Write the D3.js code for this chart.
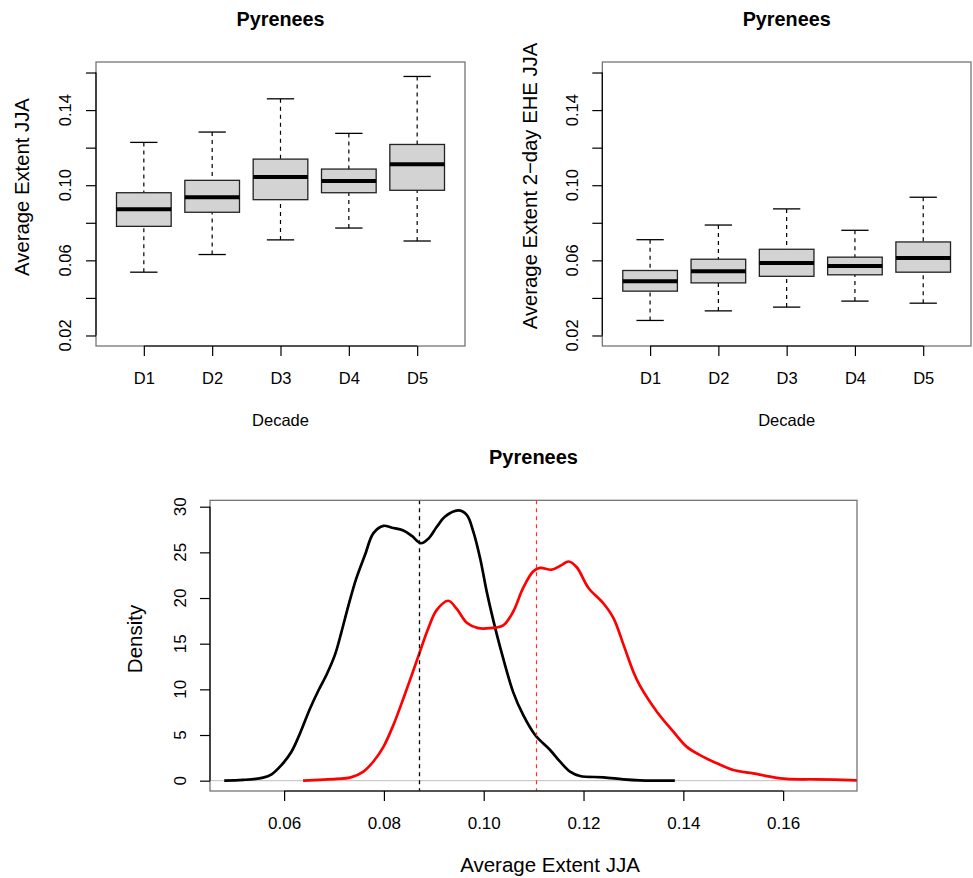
<!DOCTYPE html>
<meta charset="utf-8">
<script src="https://cdn.jsdelivr.net/npm/d3@7"></script>
<style>
  body { margin: 0; background: #fff; }
  svg { font-family: "Liberation Sans", Arial, sans-serif; }
</style>
<div id="chart"></div>
<script>
  // Decades and box statistics [whisker low, Q1, median, Q3, whisker high]
  var decades = ["D1", "D2", "D3", "D4", "D5"];
  var extentBoxes = [
    [0.0537, 0.0781, 0.0872, 0.0960, 0.1228],
    [0.0631, 0.0856, 0.0936, 0.1026, 0.1283],
    [0.0709, 0.0923, 0.1044, 0.1139, 0.1460],
    [0.0772, 0.0960, 0.1022, 0.1086, 0.1276],
    [0.0703, 0.0973, 0.1111, 0.1217, 0.1579]
  ];
  var ehe2Boxes = [
    [0.0280, 0.0436, 0.0489, 0.0546, 0.0710],
    [0.0331, 0.0480, 0.0542, 0.0606, 0.0788],
    [0.0351, 0.0515, 0.0586, 0.0659, 0.0874],
    [0.0383, 0.0523, 0.0570, 0.0617, 0.0760],
    [0.0372, 0.0537, 0.0613, 0.0698, 0.0936]
  ];
  var boxTicks = [0.02, 0.04, 0.06, 0.08, 0.10, 0.12, 0.14, 0.16];
  var boxTickLabels = ["0.02", "", "0.06", "", "0.10", "", "0.14", ""];

  // Density curves (black = earlier, red = later)
  var blackX = [0.0480, 0.0518, 0.0558, 0.0575, 0.0595, 0.0615, 0.0632, 0.0652, 0.0669, 0.0685,
    0.0702, 0.0715, 0.0729, 0.0745, 0.0762, 0.0779, 0.0799, 0.0816, 0.0839, 0.0856, 0.0874,
    0.0889, 0.0906, 0.0922, 0.0949, 0.0966, 0.0979, 0.0993, 0.1006, 0.1019, 0.1033, 0.1059,
    0.1079, 0.1103, 0.1133, 0.1153, 0.1173, 0.1193, 0.1240, 0.1280, 0.1313, 0.1383];
  var blackY = [0.00, 0.08, 0.33, 0.70, 1.72, 3.2, 5.2, 7.9, 9.9, 11.6,
    13.8, 16.3, 19.2, 22.2, 24.7, 27.1, 27.9, 27.7, 27.4, 26.8, 26.0,
    26.5, 27.8, 28.9, 29.6, 29.1, 27.3, 24.3, 20.7, 17.6, 14.6, 9.7,
    7.2, 5.0, 3.36, 2.08, 0.99, 0.51, 0.37, 0.15, 0.04, 0.00];
  var redX = [0.0638, 0.0705, 0.0732, 0.0759, 0.0779, 0.0799, 0.0819, 0.0839, 0.0856, 0.0872,
    0.0889, 0.0906, 0.0929, 0.0946, 0.0966, 0.0989, 0.1013, 0.1039, 0.1059, 0.1079, 0.1099,
    0.1113, 0.1136, 0.1156, 0.1170, 0.1186, 0.1210, 0.1240, 0.1260, 0.1280, 0.1300, 0.1313,
    0.1347, 0.1380, 0.1407, 0.1440, 0.1467, 0.1500, 0.1540, 0.1574, 0.1607, 0.1667, 0.1750];
  var redY = [0.00, 0.20, 0.33, 1.0, 2.1, 3.7, 6.1, 9.0, 11.6, 14.1,
    16.7, 18.7, 19.7, 18.8, 17.3, 16.7, 16.7, 17.0, 18.5, 21.1, 22.9,
    23.3, 23.1, 23.6, 24.0, 23.4, 21.1, 19.4, 17.8, 14.9, 11.9, 10.4,
    7.55, 5.36, 3.7, 2.6, 1.9, 1.17, 0.8, 0.44, 0.19, 0.15, 0.04];
  var blackMean = 0.0871, redMean = 0.1104;
  var densXTicks = [0.06, 0.08, 0.10, 0.12, 0.14, 0.16];
  var densYTicks = [0, 5, 10, 15, 20, 25, 30];

  var svg = d3.select("#chart").append("svg")
    .attr("width", 973)
    .attr("height", 878)
    .style("background", "#fff");

  function boxPanel(stats, left, right, ylab, ylabX, ylabY, tickX) {
    var top = 62, bottom = 346;
    var x = d3.scaleLinear().domain([0.3, 5.7]).range([left, right]);
    var y = d3.scaleLinear().domain([0.0144, 0.1656]).range([bottom, top]);
    var g = svg.append("g");
    var bw = x(0.4) - x(0), cw = x(0.2) - x(0);

    var boxes = g.selectAll(".bx").data(stats).enter().append("g");
    boxes.append("line") // lower whisker
      .attr("x1", function (d, i) { return x(i + 1); })
      .attr("x2", function (d, i) { return x(i + 1); })
      .attr("y1", function (d) { return y(d[0]); })
      .attr("y2", function (d) { return y(d[1]); })
      .attr("stroke", "#000").attr("stroke-width", 1.2).attr("stroke-dasharray", "4,4");
    boxes.append("line") // upper whisker
      .attr("x1", function (d, i) { return x(i + 1); })
      .attr("x2", function (d, i) { return x(i + 1); })
      .attr("y1", function (d) { return y(d[4]); })
      .attr("y2", function (d) { return y(d[3]); })
      .attr("stroke", "#000").attr("stroke-width", 1.2).attr("stroke-dasharray", "4,4");
    [0, 4].forEach(function (k) {
      boxes.append("line")
        .attr("x1", function (d, i) { return x(i + 1) - cw; })
        .attr("x2", function (d, i) { return x(i + 1) + cw; })
        .attr("y1", function (d) { return y(d[k]); })
        .attr("y2", function (d) { return y(d[k]); })
        .attr("stroke", "#000").attr("stroke-width", 1.3);
    });
    boxes.append("rect")
      .attr("x", function (d, i) { return x(i + 1) - bw; })
      .attr("width", 2 * bw)
      .attr("y", function (d) { return y(d[3]); })
      .attr("height", function (d) { return y(d[1]) - y(d[3]); })
      .attr("fill", "#d3d3d3").attr("stroke", "#222").attr("stroke-width", 1.3);
    boxes.append("line")
      .attr("x1", function (d, i) { return x(i + 1) - bw; })
      .attr("x2", function (d, i) { return x(i + 1) + bw; })
      .attr("y1", function (d) { return y(d[2]); })
      .attr("y2", function (d) { return y(d[2]); })
      .attr("stroke", "#000").attr("stroke-width", 4);

    // frame
    g.append("rect").attr("x", left).attr("y", top)
      .attr("width", right - left).attr("height", bottom - top)
      .attr("fill", "none").attr("stroke", "#6a6a6a").attr("stroke-width", 1.2);

    // y axis
    var ya = g.append("g").attr("transform", "translate(" + left + ",0)")
      .call(d3.axisLeft(y).tickValues(boxTicks).tickSize(10).tickSizeOuter(0).tickFormat(""));
    ya.select(".domain").remove();
    ya.selectAll("line").attr("stroke", "#000").attr("stroke-width", 1.2);
    g.append("line").attr("x1", left).attr("x2", left)
      .attr("y1", y(0.02)).attr("y2", y(0.16)).attr("stroke", "#000").attr("stroke-width", 1.2);
    g.selectAll(".ylab").data(boxTicks).enter().append("text")
      .attr("transform", function (d) { return "translate(" + tickX + "," + y(d) + ")rotate(-90)"; })
      .attr("text-anchor", "middle").attr("dominant-baseline", "central")
      .style("font-size", "16.5px")
      .text(function (d, i) { return boxTickLabels[i]; });

    // x axis
    var xa = g.append("g").attr("transform", "translate(0," + bottom + ")")
      .call(d3.axisBottom(x).tickValues([1, 2, 3, 4, 5]).tickSize(10).tickSizeOuter(0)
        .tickFormat(function (d) { return decades[d - 1]; }));
    xa.select(".domain").remove();
    xa.selectAll("line").attr("stroke", "#000").attr("stroke-width", 1.2);
    xa.selectAll("text").attr("y", 38).attr("dy", null)
      .style("font-size", "16.5px").style("font-family", "Liberation Sans, Arial, sans-serif")
      .attr("fill", "#000");
    g.append("line").attr("x1", x(1)).attr("x2", x(5))
      .attr("y1", bottom).attr("y2", bottom).attr("stroke", "#000").attr("stroke-width", 1.2);

    g.append("text").attr("x", (left + right) / 2).attr("y", 426)
      .attr("text-anchor", "middle").style("font-size", "16.5px").text("Decade");
    g.append("text")
      .attr("transform", "translate(" + ylabX + "," + ylabY + ")rotate(-90)")
      .attr("text-anchor", "middle").style("font-size", "20.3px").text(ylab);
    g.append("text").attr("x", (left + right) / 2).attr("y", 26)
      .attr("text-anchor", "middle").style("font-size", "19.8px").style("font-weight", "bold")
      .text("Pyrenees");
  }

  boxPanel(extentBoxes, 96, 465, "Average Extent JJA", 29, 187, 65);
  boxPanel(ehe2Boxes, 602.3, 971, "Average Extent 2\u2212day EHE JJA", 536.5, 186, 571.7);

  // Density panel
  var dl = 210, dr = 857, dt = 500.3, db = 791;
  var dx = d3.scaleLinear().domain([0.04515, 0.1748]).range([dl, dr]);
  var dy = d3.scaleLinear().domain([-1.13, 30.7]).range([db, dt]);
  var dg = svg.append("g");

  dg.append("clipPath").attr("id", "dclip").append("rect")
    .attr("x", dl).attr("y", dt).attr("width", dr - dl).attr("height", db - dt);

  dg.append("line").attr("x1", dl).attr("x2", dr)
    .attr("y1", dy(0)).attr("y2", dy(0)).attr("stroke", "#bebebe").attr("stroke-width", 1);

  var line = d3.line()
    .x(function (d) { return dx(d[0]); })
    .y(function (d) { return dy(d[1]); })
    .curve(d3.curveCatmullRom.alpha(0.5));

  dg.append("path").datum(d3.zip(blackX, blackY))
    .attr("d", line).attr("fill", "none").attr("stroke", "#000").attr("stroke-width", 2.7)
    .attr("clip-path", "url(#dclip)");
  dg.append("path").datum(d3.zip(redX, redY))
    .attr("d", line).attr("fill", "none").attr("stroke", "#ff0000").attr("stroke-width", 2.7)
    .attr("clip-path", "url(#dclip)");

  // mean lines, snapped to the pixel grid
  var bmx = Math.round(dx(blackMean)) + 0.5, rmx = Math.round(dx(redMean)) + 0.5;
  dg.append("line").attr("x1", bmx).attr("x2", bmx)
    .attr("y1", dt).attr("y2", db).attr("stroke", "#000").attr("stroke-width", 1.3)
    .attr("stroke-dasharray", "4,4");
  dg.append("line").attr("x1", rmx).attr("x2", rmx)
    .attr("y1", dt).attr("y2", db).attr("stroke", "#ff3030").attr("stroke-width", 1.2)
    .attr("stroke-dasharray", "4,4");

  dg.append("rect").attr("x", dl).attr("y", dt)
    .attr("width", dr - dl).attr("height", db - dt)
    .attr("fill", "none").attr("stroke", "#6a6a6a").attr("stroke-width", 1.2);

  var dya = dg.append("g").attr("transform", "translate(" + dl + ",0)")
    .call(d3.axisLeft(dy).tickValues(densYTicks).tickSize(10).tickSizeOuter(0).tickFormat(""));
  dya.select(".domain").remove();
  dya.selectAll("line").attr("stroke", "#000").attr("stroke-width", 1.2);
  dg.append("line").attr("x1", dl).attr("x2", dl)
    .attr("y1", dy(0)).attr("y2", dy(30)).attr("stroke", "#000").attr("stroke-width", 1.2);
  dg.selectAll(".dyl").data(densYTicks).enter().append("text")
    .attr("transform", function (d) { return "translate(180," + dy(d) + ")rotate(-90)"; })
    .attr("text-anchor", "middle").attr("dominant-baseline", "central")
    .style("font-size", "17px").text(function (d) { return d; });

  var dxa = dg.append("g").attr("transform", "translate(0," + db + ")")
    .call(d3.axisBottom(dx).tickValues(densXTicks).tickSize(10).tickSizeOuter(0)
      .tickFormat(d3.format(".2f")));
  dxa.select(".domain").remove();
  dxa.selectAll("line").attr("stroke", "#000").attr("stroke-width", 1.2);
  dxa.selectAll("text").attr("y", 38).attr("dy", null)
    .style("font-size", "17px").style("font-family", "Liberation Sans, Arial, sans-serif")
    .attr("fill", "#000");
  dg.append("line").attr("x1", dx(0.06)).attr("x2", dx(0.16))
    .attr("y1", db).attr("y2", db).attr("stroke", "#000").attr("stroke-width", 1.2);

  dg.append("text").attr("x", 550).attr("y", 872)
    .attr("text-anchor", "middle").style("font-size", "20.5px").text("Average Extent JJA");
  dg.append("text").attr("transform", "translate(142,639)rotate(-90)")
    .attr("text-anchor", "middle").style("font-size", "20.5px").text("Density");
  dg.append("text").attr("x", 533.5).attr("y", 464)
    .attr("text-anchor", "middle").style("font-size", "20px").style("font-weight", "bold")
    .text("Pyrenees");
</script>
